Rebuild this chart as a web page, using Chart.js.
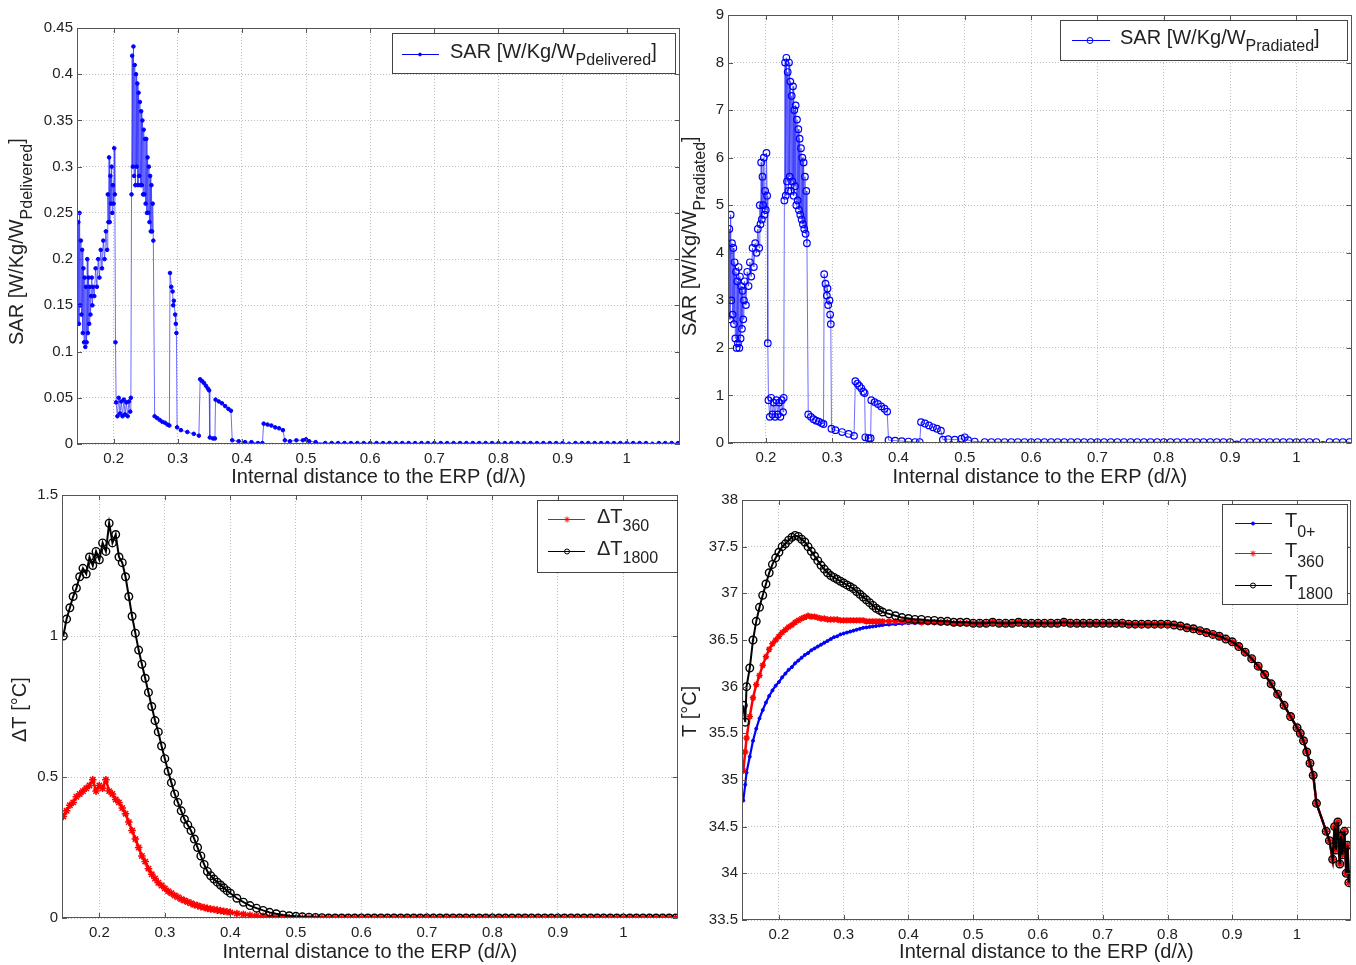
<!DOCTYPE html>
<html>
<head>
<meta charset="utf-8">
<script src="https://cdn.jsdelivr.net/npm/chart.js@4.4.1/dist/chart.umd.min.js"></script>
<style>
  body { margin: 0; background: #fff; }
  #wrap { position: relative; width: 1356px; height: 965px; overflow: hidden; }
  canvas { position: absolute; }
</style>
</head>
<body>
<div id="wrap">
  <canvas id="sarDel" width="683" height="490" style="left:0;top:0"></canvas>
  <canvas id="sarRad" width="676" height="490" style="left:680px;top:0"></canvas>
  <canvas id="deltaT" width="683" height="487" style="left:0;top:478px"></canvas>
  <canvas id="temp" width="676" height="487" style="left:680px;top:478px"></canvas>
</div>
<script>
// ---- SAR along the distance (top panels) ----
const sarX = [
  0.145, 0.146, 0.147, 0.148, 0.149, 0.150, 0.151, 0.152, 0.153, 0.154,
  0.155, 0.156, 0.157, 0.158, 0.159, 0.160, 0.161, 0.162, 0.163, 0.164,
  0.165, 0.166, 0.167, 0.168, 0.170, 0.172, 0.174, 0.176, 0.178, 0.180,
  0.182, 0.184, 0.186, 0.188, 0.190, 0.191, 0.192, 0.193, 0.194, 0.195,
  0.196, 0.197, 0.198, 0.199, 0.200, 0.201, 0.202, 0.203, 0.204, 0.206,
  0.208, 0.210, 0.212, 0.214, 0.216, 0.218, 0.220, 0.222, 0.224, 0.226,
  0.227, 0.228, 0.229, 0.230, 0.231, 0.232, 0.233, 0.234, 0.235, 0.236,
  0.237, 0.238, 0.239, 0.240, 0.241, 0.242, 0.243, 0.244, 0.245, 0.246,
  0.247, 0.248, 0.249, 0.250, 0.251, 0.252, 0.253, 0.254, 0.255, 0.256,
  0.257, 0.258, 0.259, 0.260, 0.261, 0.262, 0.264, 0.268, 0.272, 0.276,
  0.280, 0.284, 0.287, 0.288, 0.290, 0.292, 0.293, 0.294, 0.296, 0.297,
  0.298, 0.299, 0.305, 0.315, 0.325, 0.333, 0.335, 0.338, 0.341, 0.344,
  0.347, 0.349, 0.350, 0.355, 0.358, 0.359, 0.364, 0.369, 0.374, 0.379,
  0.383, 0.385, 0.395, 0.405, 0.415, 0.425, 0.432, 0.434, 0.440, 0.446,
  0.452, 0.458, 0.464, 0.467, 0.475, 0.485, 0.495, 0.500, 0.505, 0.515
];
const sarDelivered = [
  0.24, 0.13, 0.25, 0.15, 0.22, 0.14, 0.21, 0.12, 0.19, 0.11,
  0.18, 0.105, 0.17, 0.11, 0.20, 0.12, 0.18, 0.13, 0.17, 0.14,
  0.16, 0.18, 0.15, 0.17, 0.16, 0.19, 0.17, 0.20, 0.18, 0.21,
  0.19, 0.22, 0.20, 0.23, 0.21, 0.27, 0.24, 0.31, 0.24, 0.29,
  0.26, 0.30, 0.25, 0.28, 0.26, 0.32, 0.27, 0.11, 0.045, 0.03,
  0.05, 0.033, 0.046, 0.03, 0.048, 0.032, 0.045, 0.03, 0.046, 0.035,
  0.05, 0.27, 0.42, 0.30, 0.43, 0.29, 0.41, 0.28, 0.40, 0.30,
  0.39, 0.28, 0.38, 0.29, 0.37, 0.28, 0.36, 0.28, 0.35, 0.27,
  0.34, 0.27, 0.33, 0.26, 0.33, 0.25, 0.31, 0.25, 0.30, 0.24,
  0.29, 0.23, 0.28, 0.23, 0.26, 0.22, 0.03, 0.028, 0.026, 0.024,
  0.023, 0.021, 0.02, 0.185, 0.17, 0.165, 0.15, 0.155, 0.14, 0.13,
  0.12, 0.018, 0.015, 0.013, 0.011, 0.009, 0.07, 0.068, 0.066, 0.063,
  0.06, 0.058, 0.007, 0.006, 0.006, 0.048, 0.046, 0.044, 0.041, 0.038,
  0.036, 0.004, 0.003, 0.002, 0.002, 0.001, 0.001, 0.022, 0.021, 0.02,
  0.018, 0.017, 0.015, 0.004, 0.003, 0.004, 0.004, 0.005, 0.003, 0.002
];
const sarRadiated = [
  4.5, 2.6, 4.8, 3.0, 4.2, 2.7, 4.1, 2.5, 3.8, 2.2,
  3.6, 2.0, 3.4, 2.1, 3.7, 2.0, 3.5, 2.2, 3.3, 2.4,
  3.2, 2.6, 3.0, 3.4, 2.9, 3.6, 3.3, 3.8, 3.5, 4.1,
  3.7, 4.2, 4.0, 4.5, 4.1, 5.0, 4.6, 5.9, 4.7, 5.6,
  5.0, 6.0, 4.8, 5.3, 4.9, 6.1, 5.2, 2.1, 0.9, 0.55,
  0.95, 0.6, 0.85, 0.55, 0.9, 0.6, 0.85, 0.55, 0.9, 0.65,
  0.95, 5.1, 8.0, 5.2, 8.1, 5.5, 7.8, 5.3, 8.0, 5.6,
  7.6, 5.3, 7.3, 5.5, 7.5, 5.2, 7.0, 5.4, 7.1, 5.0,
  6.8, 5.1, 6.6, 4.9, 6.4, 4.8, 6.2, 4.7, 6.0, 4.6,
  5.9, 4.5, 5.6, 4.4, 5.3, 4.2, 0.6, 0.55, 0.5, 0.47,
  0.45, 0.42, 0.4, 3.55, 3.35, 3.1, 3.25, 2.9, 3.0, 2.7,
  2.5, 0.3, 0.27, 0.23, 0.19, 0.15, 1.3, 1.25, 1.2, 1.15,
  1.08, 1.05, 0.12, 0.1, 0.1, 0.9, 0.86, 0.82, 0.77, 0.72,
  0.66, 0.06, 0.05, 0.04, 0.03, 0.02, 0.02, 0.44, 0.41, 0.37,
  0.33, 0.3, 0.26, 0.07, 0.08, 0.07, 0.09, 0.12, 0.06, 0.03
];
// far part of the line, shared x for SAR and delta T
const tailX = [
  0.53, 0.54, 0.55, 0.56, 0.57, 0.58, 0.59, 0.60, 0.61, 0.62,
  0.63, 0.64, 0.65, 0.66, 0.67, 0.68, 0.69, 0.70, 0.71, 0.72,
  0.73, 0.74, 0.75, 0.76, 0.77, 0.78, 0.79, 0.80, 0.81, 0.82,
  0.83, 0.84, 0.85, 0.86, 0.87, 0.88, 0.89, 0.90, 0.91, 0.92,
  0.93, 0.94, 0.95, 0.96, 0.97, 0.98, 0.99, 1.00, 1.01, 1.02,
  1.03, 1.04, 1.05, 1.06, 1.07, 1.08
];
const sarDeliveredTail = [
  0.001, 0.001, 0.001, 0.001, 0.001, 0.001, 0.001, 0.001, 0.001, 0.001,
  0.001, 0.001, 0.001, 0.001, 0.001, 0.001, 0.001, 0.001, 0.001, 0.001,
  0.001, 0.001, 0.001, 0.001, 0.001, 0.001, 0.001, 0.001, 0.001, 0.001,
  0.001, 0.001, 0.001, 0.001, 0.001, 0.001, 0.001, 0.001, 0.0003, 0.001,
  0.001, 0.001, 0.001, 0.001, 0.001, 0.001, 0.001, 0.001, 0.001, 0.001,
  0.001, 0.0003, 0.001, 0.001, 0.001, 0.001
];
const sarRadiatedTail = [
  0.02, 0.02, 0.02, 0.02, 0.02, 0.02, 0.02, 0.02, 0.02, 0.02,
  0.02, 0.02, 0.02, 0.02, 0.02, 0.02, 0.02, 0.02, 0.02, 0.02,
  0.02, 0.02, 0.02, 0.02, 0.02, 0.02, 0.02, 0.02, 0.02, 0.02,
  0.02, 0.02, 0.02, 0.02, 0.02, 0.02, 0.02, 0.02, -0.03, 0.02,
  0.02, 0.02, 0.02, 0.02, 0.02, 0.02, 0.02, 0.02, 0.02, 0.02,
  0.02, -0.04, 0.02, 0.02, 0.02, 0.02
];

// ---- temperature rise (bottom left) ----
const dtX = [
  0.145, 0.150, 0.155, 0.160, 0.165, 0.170, 0.175, 0.180, 0.185, 0.190,
  0.195, 0.200, 0.205, 0.210, 0.215, 0.220, 0.225, 0.230, 0.235, 0.240,
  0.245, 0.250, 0.255, 0.260, 0.265, 0.270, 0.275, 0.280, 0.285, 0.290,
  0.295, 0.300, 0.305, 0.310, 0.315, 0.320, 0.325, 0.330, 0.335, 0.340,
  0.345, 0.350, 0.355, 0.360, 0.365, 0.370, 0.375, 0.380, 0.385, 0.390,
  0.395, 0.400, 0.41, 0.42, 0.43, 0.44, 0.45, 0.46, 0.47, 0.48,
  0.49, 0.50, 0.51, 0.52
];
const dT360 = [
  0.36, 0.38, 0.40, 0.41, 0.43, 0.44, 0.45, 0.46, 0.47, 0.49,
  0.45, 0.47, 0.46, 0.49, 0.45, 0.44, 0.42, 0.41, 0.39, 0.37,
  0.34, 0.31, 0.28, 0.25, 0.22, 0.20, 0.175, 0.155, 0.14, 0.125,
  0.115, 0.105, 0.095, 0.088, 0.08, 0.074, 0.067, 0.062, 0.057, 0.052,
  0.047, 0.044, 0.04, 0.037, 0.034, 0.032, 0.03, 0.028, 0.026, 0.024,
  0.022, 0.02, 0.016, 0.013, 0.01, 0.008, 0.006, 0.004, 0.003, 0.002,
  0.001, 0, 0, 0
];
const dT1800 = [
  1.00, 1.06, 1.10, 1.14, 1.17, 1.21, 1.24, 1.22, 1.28, 1.25,
  1.30, 1.27, 1.33, 1.30, 1.40, 1.33, 1.36, 1.28, 1.26, 1.21,
  1.14, 1.07, 1.01, 0.95, 0.90, 0.85, 0.80, 0.75, 0.70, 0.66,
  0.61, 0.565, 0.52, 0.48, 0.44, 0.41, 0.38, 0.35, 0.33, 0.31,
  0.28, 0.25, 0.22, 0.19, 0.165, 0.15, 0.138, 0.127, 0.117, 0.107,
  0.097, 0.088, 0.07, 0.056, 0.044, 0.035, 0.027, 0.02, 0.015, 0.011,
  0.008, 0.006, 0.004, 0.003
];
const dT360Tail = [
  0, 0, 0, 0, 0, 0, 0, 0, 0, 0,
  0, 0, 0, 0, 0, 0, 0, 0, 0, 0,
  0, 0, 0, 0, 0, 0, 0, 0, 0, 0,
  0, 0, 0, 0, 0, 0, 0, 0, 0, 0,
  0, 0, 0, 0, 0, 0, 0, 0, 0, 0,
  0, 0, 0, 0, 0, 0
];
const dT1800Tail = [
  0.002, 0.001, 0, 0, 0, 0, 0, 0, 0, 0,
  0, 0, 0, 0, 0, 0, 0, 0, 0, 0,
  0, 0, 0, 0, 0, 0, 0, 0, 0, 0,
  0, 0, 0, 0, 0, 0, 0, 0, 0, 0,
  0, 0, 0, 0, 0, 0, 0, 0, 0, 0,
  0, 0, 0, 0, 0, 0
];

// ---- absolute temperature (bottom right) ----
const tHeadX = [
  0.145, 0.148, 0.150, 0.155, 0.160, 0.165, 0.170, 0.175, 0.180, 0.185, 0.190, 0.195, 0.200,
  0.205, 0.210, 0.215, 0.220, 0.225, 0.230, 0.235, 0.240, 0.245, 0.250,
  0.255, 0.260, 0.265, 0.270, 0.275, 0.280, 0.285, 0.290, 0.295, 0.300,
  0.305, 0.310, 0.315, 0.320, 0.325, 0.330, 0.335, 0.340, 0.345, 0.350, 0.355, 0.360,
  0.37, 0.38, 0.39, 0.40, 0.41, 0.42, 0.43, 0.44, 0.45, 0.46, 0.47, 0.48, 0.49, 0.50
];
const t0Head = [
  34.78, 34.95, 35.08, 35.25, 35.42, 35.55, 35.66, 35.75, 35.83, 35.90, 35.96, 36.01, 36.05,
  36.10, 36.14, 36.18, 36.21, 36.25, 36.28, 36.31, 36.34, 36.36, 36.39,
  36.41, 36.43, 36.45, 36.47, 36.49, 36.51, 36.53, 36.54, 36.56, 36.57,
  36.58, 36.59, 36.60, 36.61, 36.62, 36.63, 36.635, 36.64, 36.645, 36.65, 36.655, 36.66,
  36.665, 36.67, 36.675, 36.68, 36.68, 36.68, 36.68, 36.68, 36.68, 36.68, 36.68, 36.68, 36.68, 36.68
];
const t360Head = [
  35.10, 35.30, 35.45, 35.68, 35.88, 36.02, 36.12, 36.23, 36.32, 36.40, 36.46, 36.50, 36.54,
  36.58, 36.61, 36.64, 36.66, 36.69, 36.71, 36.73, 36.745, 36.76, 36.75,
  36.75, 36.74, 36.73, 36.73, 36.72, 36.72, 36.72, 36.72, 36.71, 36.71,
  36.71, 36.71, 36.71, 36.71, 36.71, 36.71, 36.70, 36.70, 36.70, 36.70, 36.70, 36.70,
  36.70, 36.70, 36.70, 36.70, 36.70, 36.69, 36.69, 36.69, 36.69, 36.69, 36.68, 36.68, 36.68, 36.68
];
const t1800Head = [
  35.80, 35.62, 36.00, 36.20, 36.50, 36.70, 36.85, 36.98, 37.10, 37.22, 37.31, 37.38, 37.44,
  37.50, 37.53, 37.57, 37.60, 37.62, 37.61, 37.58, 37.55, 37.50, 37.45,
  37.40, 37.35, 37.30, 37.26, 37.22, 37.19, 37.17, 37.15, 37.13, 37.11,
  37.09, 37.07, 37.05, 37.02, 36.99, 36.96, 36.93, 36.90, 36.87, 36.84, 36.82, 36.80,
  36.78, 36.76, 36.74, 36.73, 36.72, 36.72, 36.71, 36.71, 36.70, 36.70, 36.69, 36.69, 36.69, 36.68
];
// beyond 0.5 the three curves lie on top of each other
const tTailX = [
  0.51, 0.52, 0.53, 0.54, 0.55, 0.56, 0.57, 0.58, 0.59, 0.60,
  0.61, 0.62, 0.63, 0.64, 0.65, 0.66, 0.67, 0.68, 0.69, 0.70,
  0.71, 0.72, 0.73, 0.74, 0.75, 0.76, 0.77, 0.78, 0.79, 0.80,
  0.81, 0.82, 0.83, 0.84, 0.85, 0.86, 0.87, 0.88, 0.89, 0.90,
  0.91, 0.92, 0.93, 0.94, 0.95, 0.96, 0.97, 0.98, 0.99, 1.00,
  1.005, 1.01, 1.015, 1.02, 1.025, 1.03,
  1.045, 1.05, 1.055, 1.058, 1.06, 1.063, 1.066, 1.068, 1.07, 1.073, 1.076, 1.078, 1.08
];
const tTail = [
  36.68, 36.68, 36.69, 36.68, 36.68, 36.68, 36.69, 36.68, 36.68, 36.68,
  36.68, 36.68, 36.68, 36.69, 36.68, 36.68, 36.68, 36.68, 36.68, 36.68,
  36.68, 36.68, 36.68, 36.67, 36.67, 36.67, 36.67, 36.67, 36.67, 36.67,
  36.66, 36.65, 36.63, 36.62, 36.60, 36.58, 36.56, 36.54, 36.51, 36.48,
  36.43, 36.37, 36.30, 36.22, 36.13, 36.03, 35.92, 35.80, 35.68, 35.56,
  35.50, 35.42, 35.30, 35.18, 35.05, 34.75,
  34.45, 34.35, 34.15, 34.50, 34.25, 34.55, 34.10, 34.40, 34.20, 34.45, 34.00, 34.30, 33.90
];

const FONT = "'Liberation Sans', Arial, Helvetica, sans-serif";
Chart.defaults.font.family = FONT;
Chart.defaults.color = '#222';

const X_MIN = 0.143, X_MAX = 1.083;
const X_TITLE = 'Internal distance to the ERP (d/\u03bb)';
const BLUE = '#0000ff', RED = '#ff0000', BLACK = '#000000';

function fmt(v) {
  return String(Math.round(v * 1000) / 1000);
}

function toPoints(xs, ys) {
  return xs.map((x, i) => ({ x: x, y: ys[i] }));
}

// s: {color, line, style, r, filled, order, width, pw}
function series(xs, ys, s) {
  return {
    data: toPoints(xs, ys),
    borderColor: s.line || s.color,
    borderWidth: s.width || 1,
    pointStyle: s.style,
    pointRadius: s.r,
    pointHoverRadius: s.r,
    pointBorderColor: s.color,
    pointBorderWidth: s.pw || 1,
    pointBackgroundColor: s.filled ? s.color : 'rgba(0,0,0,0)',
    tension: 0,
    fill: false,
    order: s.order
  };
}

// text with matlab-like subscripts, parts = [[text, isSub], ...]
function drawRich(ctx, parts, x, y, big, small, drop) {
  ctx.textBaseline = 'middle';
  ctx.textAlign = 'left';
  parts.forEach(p => {
    ctx.font = (p[1] ? small : big) + 'px ' + FONT;
    ctx.fillText(p[0], x, y + (p[1] ? drop : 0));
    x += ctx.measureText(p[0]).width;
  });
}

function drawMarker(ctx, style, x, y, r, filled) {
  ctx.beginPath();
  if (style === 'star') {
    for (let k = 0; k < 4; k++) {
      const a = k * Math.PI / 4;
      ctx.moveTo(x - r * Math.cos(a), y - r * Math.sin(a));
      ctx.lineTo(x + r * Math.cos(a), y + r * Math.sin(a));
    }
    ctx.stroke();
  } else {
    ctx.arc(x, y, r, 0, Math.PI * 2);
    if (filled) ctx.fill();
    ctx.stroke();
  }
}

// axes box with inward ticks on all four sides
const framePlugin = {
  id: 'frame',
  afterDatasetsDraw(chart) {
    const { ctx, chartArea: a, scales } = chart;
    ctx.save();
    ctx.strokeStyle = '#555';
    ctx.lineWidth = 1;
    ctx.strokeRect(Math.round(a.left) + 0.5, Math.round(a.top) + 0.5,
      Math.round(a.right - a.left) - 1, Math.round(a.bottom - a.top) - 1);
    ctx.beginPath();
    scales.x.ticks.forEach(t => {
      const px = Math.round(scales.x.getPixelForValue(t.value)) + 0.5;
      ctx.moveTo(px, a.bottom); ctx.lineTo(px, a.bottom - 5);
      ctx.moveTo(px, a.top); ctx.lineTo(px, a.top + 5);
    });
    scales.y.ticks.forEach(t => {
      const py = Math.round(scales.y.getPixelForValue(t.value)) + 0.5;
      ctx.moveTo(a.left, py); ctx.lineTo(a.left + 5, py);
      ctx.moveTo(a.right, py); ctx.lineTo(a.right - 5, py);
    });
    ctx.stroke();
    ctx.restore();
  }
};

// y title and legend box (both need subscripts)
function labelsPlugin(cfg) {
  return {
    id: 'labels',
    afterDraw(chart) {
      const ctx = chart.ctx;
      const yt = cfg.yTitle;
      ctx.save();
      ctx.fillStyle = '#222';
      ctx.translate(yt.x, yt.y);
      ctx.rotate(-Math.PI / 2);
      drawRich(ctx, yt.parts, 0, 0, 20, 16, 11);
      ctx.restore();

      const L = cfg.legend;
      ctx.save();
      ctx.fillStyle = '#fff';
      ctx.fillRect(L.box[0], L.box[1], L.box[2], L.box[3]);
      ctx.strokeStyle = '#444';
      ctx.lineWidth = 1;
      ctx.strokeRect(L.box[0] + 0.5, L.box[1] + 0.5, L.box[2], L.box[3]);
      L.entries.forEach(e => {
        ctx.strokeStyle = e.color;
        ctx.fillStyle = e.color;
        ctx.lineWidth = 1;
        ctx.beginPath();
        ctx.moveTo(L.lineX[0], e.y + 0.5);
        ctx.lineTo(L.lineX[1], e.y + 0.5);
        ctx.stroke();
        drawMarker(ctx, e.style, L.markX, e.y + 0.5, e.r, e.filled);
        ctx.fillStyle = '#222';
        drawRich(ctx, e.parts, L.textX, e.y - 2, 20, 16, L.drop);
      });
      ctx.restore();
    }
  };
}

function axisOpts(extra) {
  return Object.assign({
    type: 'linear',
    grid: { color: '#bdbdbd', drawTicks: false, lineWidth: 1 },
    border: { display: false, dash: [1, 2] }
  }, extra);
}

function makePanel(id, cfg) {
  return new Chart(document.getElementById(id), {
    type: 'line',
    data: { datasets: cfg.datasets },
    options: {
      responsive: false,
      animation: false,
      devicePixelRatio: 1,
      events: [],
      layout: { padding: { top: cfg.top, right: cfg.right, left: 0, bottom: 0 } },
      plugins: { legend: { display: false }, tooltip: { enabled: false } },
      scales: {
        x: axisOpts({
          min: X_MIN, max: X_MAX,
          afterFit: s => { s.height = cfg.xh; },
          ticks: { stepSize: 0.1, includeBounds: false, autoSkip: false, maxRotation: 0,
                   padding: 6, callback: fmt, font: { size: 15 }, color: '#222' },
          title: { display: true, text: X_TITLE, font: { size: 20 }, color: '#222',
                   padding: { top: 0, bottom: 1 } }
        }),
        y: axisOpts({
          min: cfg.yMin, max: cfg.yMax,
          afterFit: s => { s.width = cfg.yw; },
          ticks: { stepSize: cfg.yStep, includeBounds: false, autoSkip: false,
                   padding: 4, callback: fmt, font: { size: 15 }, color: '#222' }
        })
      }
    },
    plugins: [framePlugin, labelsPlugin(cfg)]
  });
}

makePanel('sarDel', {
  top: 28, right: 3, yw: 77, xh: 46,
  yMin: 0, yMax: 0.45, yStep: 0.05,
  datasets: [
    series(sarX.concat(tailX), sarDelivered.concat(sarDeliveredTail),
      { color: BLUE, line: 'rgba(60,60,255,0.75)', style: 'circle', r: 1.8, filled: true, order: 0 })
  ],
  yTitle: { x: 17, y: 345, parts: [['SAR [W/Kg/W', 0], ['Pdelivered', 1], [']', 0]] },
  legend: {
    box: [392, 33, 283, 40], lineX: [402, 439], markX: 420, textX: 450, drop: 9,
    entries: [{ y: 54, color: BLUE, style: 'circle', r: 1.4, filled: true,
                parts: [['SAR [W/Kg/W', 0], ['Pdelivered', 1], [']', 0]] }]
  }
});

makePanel('sarRad', {
  top: 15, right: 4, yw: 48, xh: 47,
  yMin: 0, yMax: 9, yStep: 1,
  datasets: [
    series(sarX.concat(tailX), sarRadiated.concat(sarRadiatedTail),
      { color: BLUE, line: 'rgba(60,60,255,0.75)', style: 'circle', r: 3.3, filled: false, order: 0, pw: 1.2 })
  ],
  yTitle: { x: 10, y: 336, parts: [['SAR [W/Kg/W', 0], ['Pradiated', 1], [']', 0]] },
  legend: {
    box: [380, 20, 287, 40], lineX: [392, 430], markX: 410, textX: 440, drop: 9,
    entries: [{ y: 40, color: BLUE, style: 'circle', r: 3, filled: false,
                parts: [['SAR [W/Kg/W', 0], ['Pradiated', 1], [']', 0]] }]
  }
});

makePanel('deltaT', {
  top: 17, right: 3, yw: 62, xh: 47,
  yMin: 0, yMax: 1.5, yStep: 0.5,
  datasets: [
    series(dtX.concat(tailX), dT1800.concat(dT1800Tail),
      { color: BLACK, style: 'circle', r: 3.8, filled: false, order: 0, width: 2, pw: 1.4 }),
    series(dtX.concat(tailX), dT360.concat(dT360Tail),
      { color: RED, style: 'star', r: 3.8, filled: false, order: 1, width: 2.5, pw: 1.5 })
  ],
  yTitle: { x: 20, y: 264, parts: [['\u0394T [\u00b0C]', 0]] },
  legend: {
    box: [537, 22, 140, 72], lineX: [548, 585], markX: 567, textX: 597, drop: 10,
    entries: [
      { y: 41, color: RED, style: 'star', r: 3, filled: false, parts: [['\u0394T', 0], ['360', 1]] },
      { y: 73, color: BLACK, style: 'circle', r: 2.5, filled: false, parts: [['\u0394T', 0], ['1800', 1]] }
    ]
  }
});

makePanel('temp', {
  top: 22, right: 3, yw: 62, xh: 45,
  yMin: 33.5, yMax: 38, yStep: 0.5,
  datasets: [
    series(tHeadX.concat(tTailX), t1800Head.concat(tTail),
      { color: BLACK, style: 'circle', r: 3.8, filled: false, order: 0, width: 2, pw: 1.4 }),
    series(tHeadX.concat(tTailX), t360Head.concat(tTail),
      { color: RED, style: 'star', r: 3.2, filled: false, order: 1, width: 2.5, pw: 1.5 }),
    series(tHeadX.concat(tTailX), t0Head.concat(tTail),
      { color: BLUE, style: 'circle', r: 1.5, filled: true, order: 2, width: 2.2 })
  ],
  yTitle: { x: 10, y: 259, parts: [['T [\u00b0C]', 0]] },
  legend: {
    box: [542, 26, 125, 100], lineX: [555, 592], markX: 573, textX: 605, drop: 12,
    entries: [
      { y: 45, color: BLUE, style: 'circle', r: 1.5, filled: true, parts: [['T', 0], ['0+', 1]] },
      { y: 75, color: RED, style: 'star', r: 3, filled: false, parts: [['T', 0], ['360', 1]] },
      { y: 107, color: BLACK, style: 'circle', r: 2.5, filled: false, parts: [['T', 0], ['1800', 1]] }
    ]
  }
});
</script>
</body>
</html>
